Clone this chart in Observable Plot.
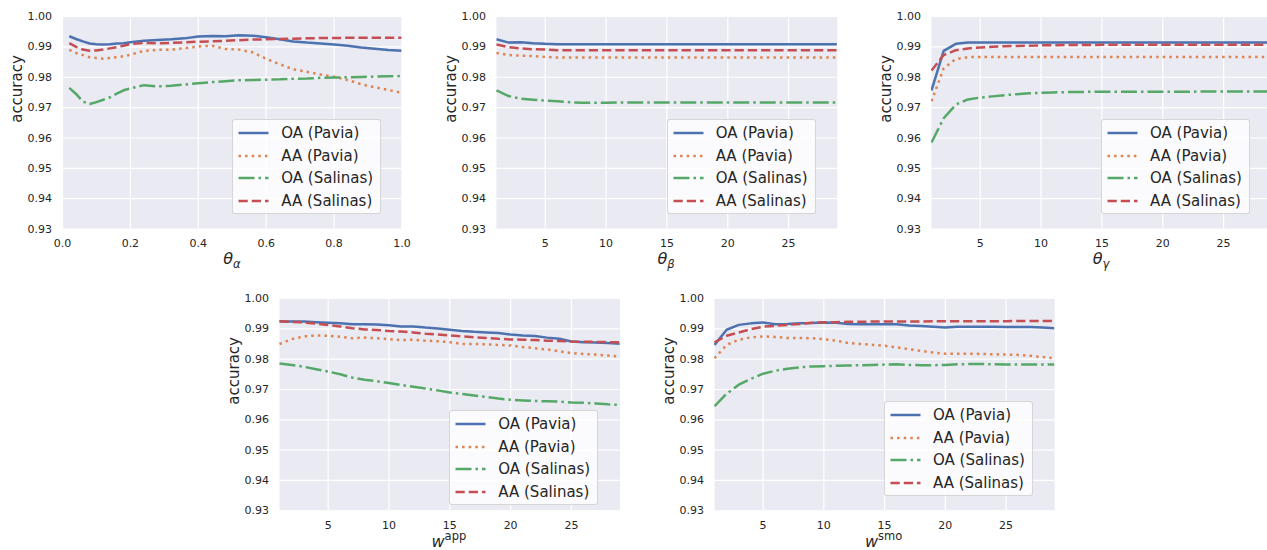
<!DOCTYPE html>
<html>
<head>
<meta charset="utf-8">
<script src="https://cdn.jsdelivr.net/npm/d3@7"></script>
<script src="https://cdn.jsdelivr.net/npm/@observablehq/plot@0.6"></script>
<style>
  html, body { margin: 0; padding: 0; background: #fff; }
  #root { position: relative; width: 1267px; height: 550px; overflow: hidden; font-family: "DejaVu Sans", sans-serif; color: #262626; }
  .panel { position: absolute; }
  .xlab { position: absolute; font-size: 16px; line-height: 16px; white-space: nowrap; transform: translateX(-50%); }
  .xlab .it { font-style: italic; }
  .xlab .sub { font-size: 11.5px; position: relative; top: 4px; font-style: italic; }
  .xlab .sup { font-size: 11.5px; display: inline-block; line-height: 8px; height: 8px; position: relative; top: -7px; }
  .legend { position: absolute; width: 147px; height: 93px; background: rgba(255,255,255,0.8); border: 1px solid rgba(204,204,204,0.8); border-radius: 3px; }
  .legend .row { position: absolute; left: 0; height: 18px; width: 100%; }
  .legend svg { position: absolute; left: 5px; top: 0; }
  .legend .txt { position: absolute; left: 48px; top: 0; font-size: 15px; line-height: 18px; white-space: nowrap; color: #262626; }
</style>
</head>
<body>
<div id="root"></div>
<script>
// ---------- tick labels ----------
const yTicks = [0.93, 0.94, 0.95, 0.96, 0.97, 0.98, 0.99, 1.00];
const alphaTicks = [0.0, 0.2, 0.4, 0.6, 0.8, 1.0];
const intTicks = [5, 10, 15, 20, 25];

// ---------- series names ----------
const seriesNames = ["OA (Pavia)", "AA (Pavia)", "OA (Salinas)", "AA (Salinas)"];

// ---------- panel 1: theta_alpha ----------
const alphaX = [0.02,0.04,0.06,0.08,0.10,0.12,0.14,0.16,0.18,0.20,0.24,0.28,0.32,0.36,0.40,0.44,0.48,0.52,0.56,0.60,0.64,0.68,0.72,0.76,0.80,0.84,0.88,0.92,0.96,1.00];
const alphaOAPavia   = [.9935,.9926,.9918,.9911,.9909,.9908,.9909,.9911,.9912,.9915,.9920,.9923,.9925,.9928,.9934,.9936,.9935,.9938,.9937,.9932,.9925,.9918,.9914,.9911,.9908,.9904,.9898,.9894,.9890,.9887];
const alphaAAPavia   = [.9890,.9880,.9873,.9866,.9863,.9861,.9863,.9866,.9869,.9874,.9887,.9890,.9891,.9896,.9901,.9904,.9893,.9891,.9882,.9861,.9843,.9826,.9818,.9809,.9802,.9791,.9777,.9767,.9758,.9749];
const alphaOASalinas = [.9765,.9745,.9720,.9712,.9718,.9726,.9734,.9746,.9757,.9763,.9774,.9770,.9772,.9776,.9780,.9784,.9787,.9790,.9791,.9792,.9793,.9795,.9796,.9798,.9799,.9800,.9801,.9802,.9803,.9804];
const alphaAASalinas = [.9912,.9900,.9891,.9887,.9888,.9891,.9895,.9899,.9904,.9909,.9913,.9912,.9913,.9915,.9917,.9918,.9920,.9922,.9924,.9925,.9926,.9927,.9928,.9929,.9929,.9930,.9930,.9930,.9930,.9930];

// ---------- integer x (1..29) ----------
const intX = [1,2,3,4,5,6,7,8,9,10,11,12,13,14,15,16,17,18,19,20,21,22,23,24,25,26,27,28,29];

// panel 2: theta_beta
const betaOAPavia   = [.9925,.9914,.9915,.9912,.9910,.9909,.9909,.9909,.9909,.9909,.9909,.9909,.9909,.9909,.9909,.9909,.9909,.9909,.9909,.9909,.9909,.9909,.9909,.9909,.9909,.9909,.9909,.9909,.9909];
const betaAAPavia   = [.9880,.9873,.9871,.9870,.9867,.9865,.9865,.9865,.9865,.9865,.9865,.9865,.9865,.9865,.9865,.9865,.9865,.9865,.9865,.9865,.9865,.9865,.9865,.9865,.9865,.9865,.9865,.9865,.9865];
const betaOASalinas = [.9757,.9738,.9729,.9726,.9723,.9721,.9718,.9716,.9716,.9716,.9717,.9717,.9717,.9717,.9717,.9717,.9717,.9717,.9717,.9717,.9717,.9717,.9717,.9717,.9717,.9717,.9717,.9717,.9717];
const betaAASalinas = [.9908,.9899,.9895,.9892,.9891,.9889,.9889,.9889,.9889,.9889,.9889,.9889,.9889,.9889,.9889,.9889,.9889,.9889,.9889,.9889,.9889,.9889,.9889,.9889,.9889,.9889,.9889,.9889,.9889];

// panel 3: theta_gamma
const gammaOAPavia   = [.9757,.9887,.9910,.9914,.9914,.9914,.9914,.9914,.9914,.9914,.9914,.9914,.9914,.9914,.9914,.9914,.9914,.9914,.9914,.9914,.9914,.9914,.9914,.9914,.9914,.9914,.9914,.9914,.9914];
const gammaAAPavia   = [.9721,.9829,.9860,.9866,.9867,.9867,.9867,.9867,.9867,.9867,.9867,.9867,.9867,.9867,.9867,.9867,.9867,.9867,.9867,.9867,.9867,.9867,.9867,.9867,.9867,.9867,.9867,.9867,.9867];
const gammaOASalinas = [.9585,.9665,.9710,.9727,.9733,.9737,.9741,.9744,.9747,.9749,.9750,.9751,.9751,.9752,.9752,.9752,.9752,.9752,.9752,.9752,.9752,.9752,.9753,.9753,.9753,.9753,.9753,.9753,.9753];
const gammaAASalinas = [.9822,.9873,.9889,.9895,.9898,.9900,.9902,.9903,.9904,.9905,.9905,.9906,.9906,.9906,.9907,.9907,.9907,.9907,.9907,.9907,.9907,.9907,.9907,.9907,.9907,.9907,.9907,.9907,.9907];

// panel 4: w^app
const appOAPavia   = [.9924,.9924,.9924,.9922,.9920,.9918,.9915,.9915,.9914,.9912,.9908,.9908,.9904,.9901,.9897,.9893,.9890,.9888,.9886,.9881,.9878,.9876,.9871,.9867,.9858,.9856,.9855,.9853,.9851];
const appAAPavia   = [.9850,.9866,.9875,.9878,.9877,.9874,.9869,.9871,.9869,.9866,.9863,.9864,.9861,.9859,.9856,.9850,.9850,.9849,.9847,.9845,.9840,.9836,.9832,.9826,.9820,.9817,.9815,.9812,.9809];
const appOASalinas = [.9786,.9781,.9775,.9767,.9759,.9750,.9739,.9732,.9727,.9721,.9715,.9709,.9703,.9697,.9690,.9685,.9680,.9675,.9670,.9666,.9664,.9662,.9661,.9660,.9657,.9656,.9654,.9651,.9649];
const appAASalinas = [.9925,.9923,.9921,.9917,.9913,.9908,.9902,.9898,.9896,.9893,.9891,.9888,.9884,.9881,.9878,.9875,.9872,.9870,.9867,.9865,.9864,.9863,.9861,.9860,.9858,.9857,.9857,.9856,.9856];

// panel 5: w^smo
const smoOAPavia   = [.9847,.9897,.9913,.9918,.9921,.9915,.9916,.9918,.9919,.9921,.9920,.9916,.9915,.9915,.9915,.9915,.9911,.9909,.9907,.9904,.9907,.9907,.9907,.9907,.9906,.9906,.9906,.9904,.9902];
const smoAAPavia   = [.9803,.9847,.9864,.9872,.9875,.9873,.9870,.9870,.9869,.9866,.9861,.9853,.9850,.9847,.9844,.9839,.9833,.9827,.9822,.9818,.9818,.9818,.9817,.9816,.9815,.9814,.9811,.9807,.9803];
const smoOASalinas = [.9645,.9686,.9716,.9735,.9752,.9762,.9768,.9773,.9776,.9777,.9778,.9779,.9780,.9781,.9782,.9783,.9781,.9780,.9780,.9781,.9783,.9784,.9784,.9783,.9782,.9782,.9782,.9782,.9782];
const smoAASalinas = [.9855,.9877,.9888,.9899,.9907,.9910,.9913,.9916,.9920,.9922,.9922,.9923,.9923,.9924,.9924,.9924,.9924,.9924,.9925,.9925,.9925,.9925,.9925,.9925,.9925,.9926,.9926,.9926,.9926];

// ---------- styles ----------
const colors = ["#4C72B0", "#DD8452", "#55A868", "#C44E52"];
const dashes = ["none", "2.5,4.1", "16,4,2.5,4", "9.25,4"];
const LW = 2.5;

const panels = [
  {left: 62.3, top: 15.7, w: 339.4, h: 212.6, xDomain: [0, 1], xTicks: alphaTicks, fmt: d3.format(".1f"),
   xs: alphaX, ys: [alphaOAPavia, alphaAAPavia, alphaOASalinas, alphaAASalinas],
   label: '<span class="it">θ</span><span class="sub">α</span>', labTop: 251, legend: [232.3, 119.3]},
  {left: 495.6, top: 15.7, w: 340.8, h: 212.6, xDomain: [1, 29], xTicks: intTicks, fmt: d3.format("d"),
   xs: intX, ys: [betaOAPavia, betaAAPavia, betaOASalinas, betaAASalinas],
   label: '<span class="it">θ</span><span class="sub">β</span>', labTop: 251, legend: [666.7, 119.3]},
  {left: 930.6, top: 15.7, w: 340.8, h: 212.6, xDomain: [1, 29], xTicks: intTicks, fmt: d3.format("d"),
   xs: intX, ys: [gammaOAPavia, gammaAAPavia, gammaOASalinas, gammaAASalinas],
   label: '<span class="it">θ</span><span class="sub">γ</span>', labTop: 251, legend: [1101, 119.3]},
  {left: 278.6, top: 297.7, w: 340.6, h: 212.3, xDomain: [1, 29], xTicks: intTicks, fmt: d3.format("d"),
   xs: intX, ys: [appOAPavia, appAAPavia, appOASalinas, appAASalinas],
   label: '<span class="it">w</span><span class="sup">app</span>', labTop: 534, legend: [449.3, 410]},
  {left: 713.5, top: 297.7, w: 340.2, h: 212.3, xDomain: [1, 29], xTicks: intTicks, fmt: d3.format("d"),
   xs: intX, ys: [smoOAPavia, smoAAPavia, smoOASalinas, smoAASalinas],
   label: '<span class="it">w</span><span class="sup">smo</span>', labTop: 534, legend: [884, 401]}
];

const root = document.getElementById("root");
const ML = 62, MR = 10, MT = 10, MB = 40;

for (const p of panels) {
  const lineMarks = p.ys.map((vals, k) =>
    Plot.line(p.xs.map((x, i) => ({x, y: vals[i]})), {
      x: "x", y: "y", stroke: colors[k], strokeWidth: LW,
      strokeDasharray: dashes[k], strokeLinecap: "butt", strokeLinejoin: "round", clip: true
    })
  );
  const svg = Plot.plot({
    width: p.w + ML + MR,
    height: p.h + MT + MB,
    marginLeft: ML, marginRight: MR, marginTop: MT, marginBottom: MB,
    style: {fontFamily: "DejaVu Sans", fontSize: "11px", color: "#262626", background: "transparent", overflow: "visible"},
    x: {domain: p.xDomain, ticks: p.xTicks, tickFormat: p.fmt},
    y: {domain: [0.93, 1.0], ticks: yTicks, tickFormat: d3.format(".2f")},
    marks: [
      Plot.frame({fill: "#EAEAF2", stroke: "none"}),
      Plot.gridX(p.xTicks, {stroke: "white", strokeOpacity: 1, strokeWidth: 1.2}),
      Plot.gridY(yTicks, {stroke: "white", strokeOpacity: 1, strokeWidth: 1.2}),
      ...lineMarks,
      Plot.axisX(p.xTicks, {tickSize: 0, tickPadding: 10, label: null, tickFormat: p.fmt, fill: "#262626", fontSize: 11}),
      Plot.axisY(yTicks, {tickSize: 0, tickPadding: 10.5, label: null, tickFormat: d3.format(".2f"), fill: "#262626", fontSize: 11}),
      Plot.text(["accuracy"], {frameAnchor: "left", dx: -45, rotate: -90, fontSize: 15, fill: "#262626", text: d => d})
    ]
  });
  svg.classList.add("panel");
  svg.style.left = (p.left - ML) + "px";
  svg.style.top = (p.top - MT) + "px";
  root.appendChild(svg);

  // x-axis label (math text)
  const lab = document.createElement("div");
  lab.className = "xlab";
  lab.innerHTML = p.label;
  lab.style.left = (p.left + p.w / 2) + "px";
  lab.style.top = p.labTop + "px";
  root.appendChild(lab);

  // legend
  const lg = document.createElement("div");
  lg.className = "legend";
  lg.style.left = p.legend[0] + "px";
  lg.style.top = p.legend[1] + "px";
  const rowCenters = [13, 35.7, 58, 80.7];
  seriesNames.forEach((name, k) => {
    const row = document.createElement("div");
    row.className = "row";
    row.style.top = (rowCenters[k] - 9) + "px";
    const ns = "http://www.w3.org/2000/svg";
    const s = document.createElementNS(ns, "svg");
    s.setAttribute("width", "31"); s.setAttribute("height", "18");
    const ln = document.createElementNS(ns, "line");
    ln.setAttribute("x1", "0.5"); ln.setAttribute("x2", "30.5");
    ln.setAttribute("y1", "9"); ln.setAttribute("y2", "9");
    ln.setAttribute("stroke", colors[k]); ln.setAttribute("stroke-width", LW);
    if (dashes[k] !== "none") ln.setAttribute("stroke-dasharray", dashes[k]);
    s.appendChild(ln);
    row.appendChild(s);
    const t = document.createElement("div");
    t.className = "txt";
    t.textContent = name;
    row.appendChild(t);
    lg.appendChild(row);
  });
  root.appendChild(lg);
}
</script>
</body>
</html>
